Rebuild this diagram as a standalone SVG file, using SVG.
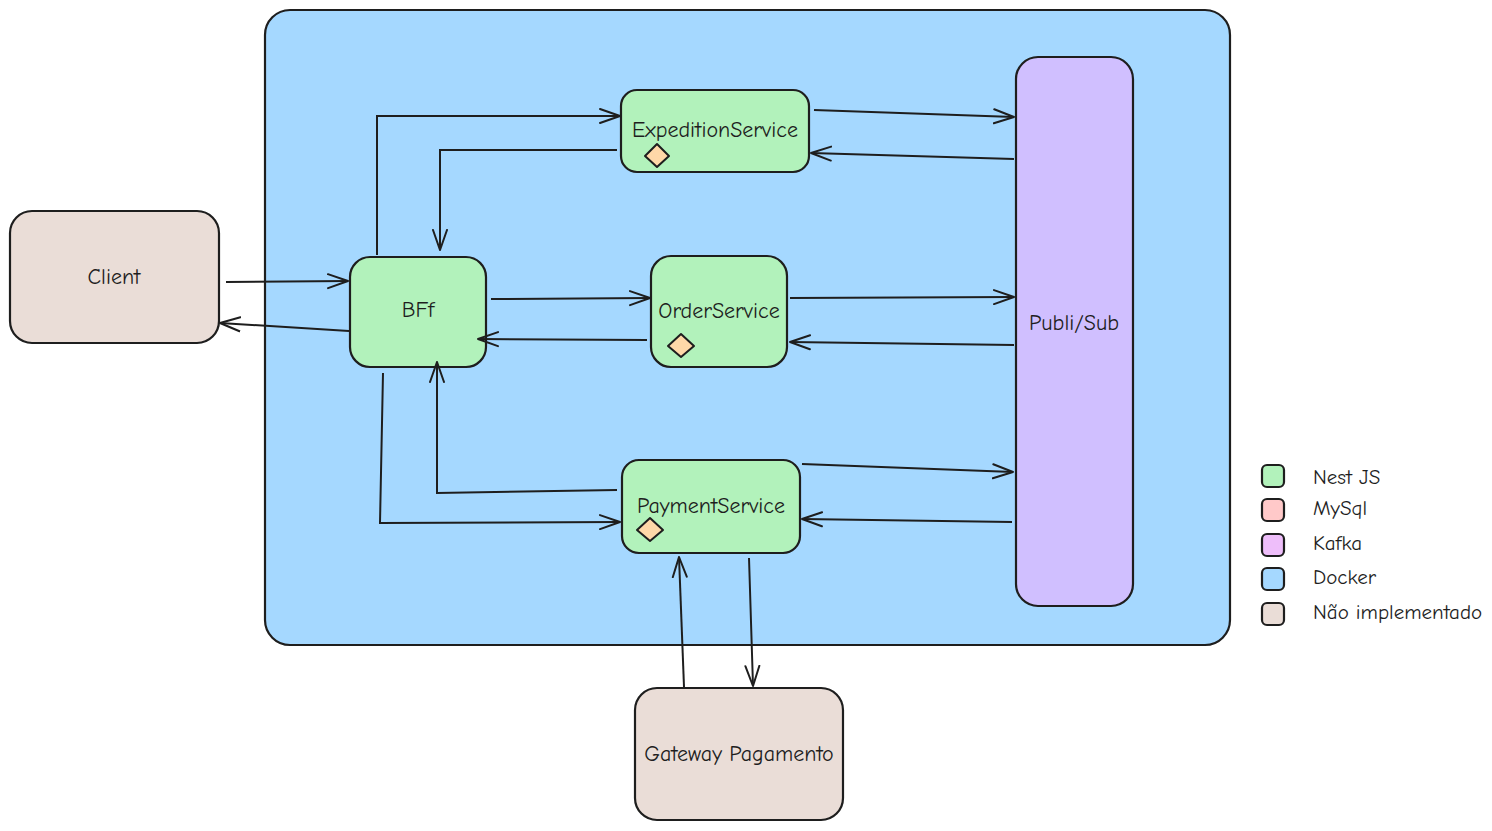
<svg xmlns="http://www.w3.org/2000/svg" width="1492" height="831" viewBox="0 0 1492 831">
<style>
.n{stroke:#1e1e1e;stroke-width:2.2;stroke-linejoin:round}
.g{fill:#b2f2bb}
.b{fill:#eaddd7}
.t{font-family:"Comic Neue","Lato","Liberation Sans",sans-serif;font-size:22px;fill:#1e1e1e;text-anchor:middle;dominant-baseline:central}
.lt{font-family:"Comic Neue","Lato","Liberation Sans",sans-serif;font-size:21px;fill:#1e1e1e;dominant-baseline:central}
.c{fill:none;stroke:#1e1e1e;stroke-width:2;marker-end:url(#a)}
.d{fill:#ffd8a8;stroke:#1e1e1e;stroke-width:2;stroke-linejoin:round}
</style>
<defs>
<marker id="a" viewBox="0 0 22 18" refX="21" refY="9" markerWidth="22" markerHeight="18" markerUnits="userSpaceOnUse" orient="auto">
<path d="M1,2 L21,9 L1,16" fill="none" stroke="#1e1e1e" stroke-width="2" stroke-linecap="round" stroke-linejoin="round"/>
</marker>
</defs>
<rect width="1492" height="831" fill="#ffffff"/>
<g id="docker"><rect class="n" x="265" y="10" width="965" height="635" rx="25" fill="#a5d8ff"/></g>
<g id="client"><rect class="n b" x="10" y="211" width="209" height="132" rx="22"/><text class="t" x="114" y="277">Client</text></g>
<g id="pubsub"><rect class="n" x="1016" y="57" width="117" height="549" rx="22" fill="#d0bfff"/><text class="t" x="1074" y="323">Publi/Sub</text></g>
<g id="bff"><rect class="n g" x="350" y="257" width="136" height="110" rx="20"/><text class="t" x="418" y="310">BFf</text></g>
<g id="expedition"><rect class="n g" x="621" y="90" width="188" height="82" rx="16"/><text class="t" x="715" y="130">ExpeditionService</text><path class="d" d="M657,144 L669,156 L657,167 L645,156 Z"/></g>
<g id="order"><rect class="n g" x="651" y="256" width="136" height="111" rx="20"/><text class="t" x="719" y="311">OrderService</text><path class="d" d="M681,334 L694,346 L681,357 L668,346 Z"/></g>
<g id="payment"><rect class="n g" x="622" y="460" width="178" height="93" rx="17"/><text class="t" x="711" y="506">PaymentService</text><path class="d" d="M650,518 L663,530 L650,541 L637,530 Z"/></g>
<g id="gateway"><rect class="n b" x="635" y="688" width="208" height="132" rx="22"/><text class="t" x="739" y="754">Gateway Pagamento</text></g>
<g id="connectors">
<path class="c" d="M226,282 L348,281"/>
<path class="c" d="M349,331 L220,323"/>
<path class="c" d="M377,255 L377,116 L620,116"/>
<path class="c" d="M617,150 L440,150 L440,250"/>
<path class="c" d="M491,299 L650,298"/>
<path class="c" d="M647,340 L478,339"/>
<path class="c" d="M383,373 L380,523 L620,522"/>
<path class="c" d="M617,490 L437,493 L437,362"/>
<path class="c" d="M814,110 L1014,117"/>
<path class="c" d="M1014,159 L811,153"/>
<path class="c" d="M790,298 L1014,297"/>
<path class="c" d="M1014,345 L790,342"/>
<path class="c" d="M802,464 L1013,472"/>
<path class="c" d="M1012,522 L802,519"/>
<path class="c" d="M684,687 L679,557"/>
<path class="c" d="M749,558 L753,686"/>
</g>
<g id="legend">
<rect class="n" x="1262" y="465" width="22" height="22" rx="5" fill="#b2f2bb"/><text class="lt" x="1313" y="477">Nest JS</text>
<rect class="n" x="1262" y="499" width="22" height="22" rx="5" fill="#ffc9c9"/><text class="lt" x="1313" y="508">MySql</text>
<rect class="n" x="1262" y="534" width="22" height="22" rx="5" fill="#eebefa"/><text class="lt" x="1313" y="543">Kafka</text>
<rect class="n" x="1262" y="568" width="22" height="22" rx="5" fill="#a5d8ff"/><text class="lt" x="1313" y="577">Docker</text>
<rect class="n" x="1262" y="603" width="22" height="22" rx="5" fill="#eaddd7"/><text class="lt" x="1313" y="612">Não implementado</text>
</g>
</svg>
